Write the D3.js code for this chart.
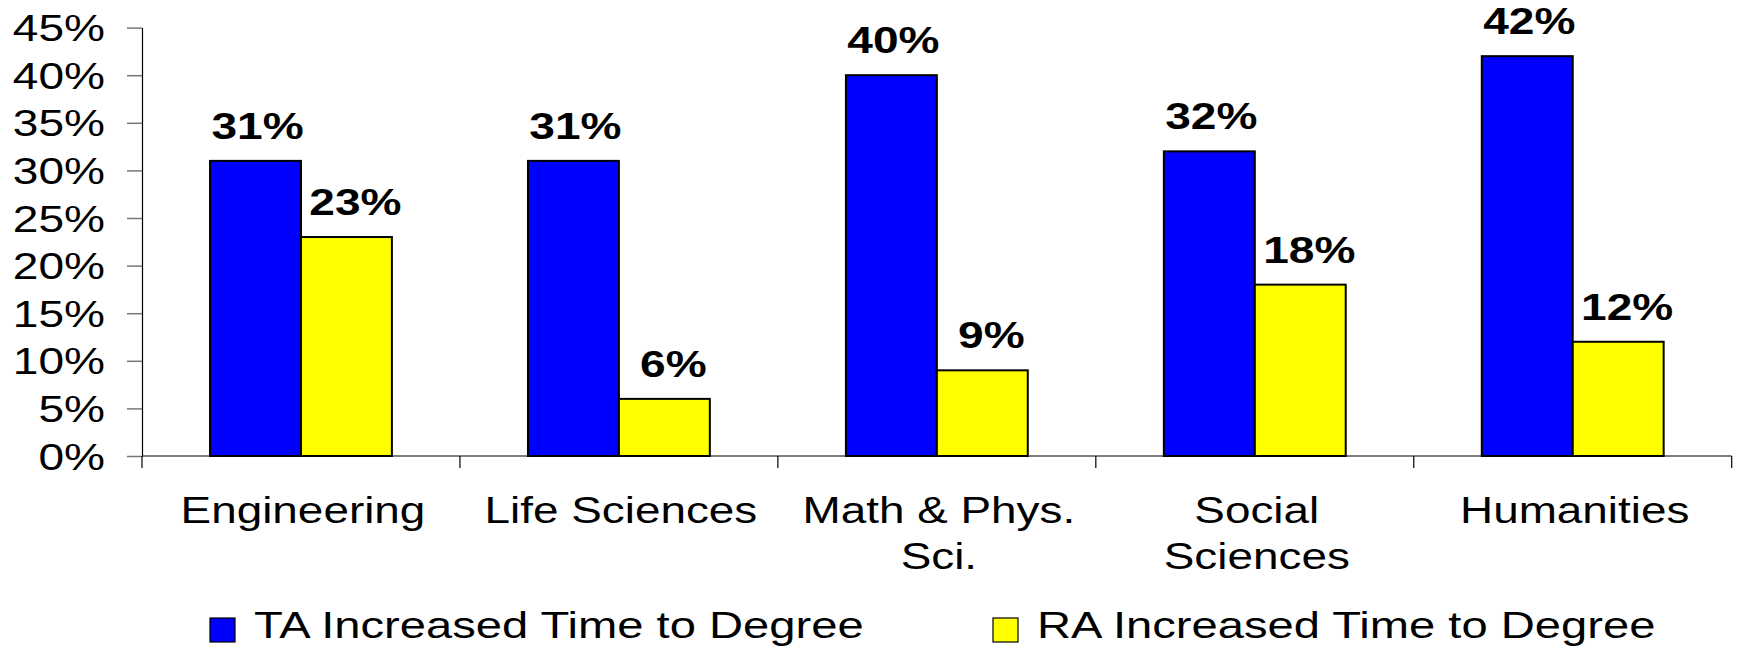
<!DOCTYPE html>
<html>
<head>
<meta charset="utf-8">
<script src="https://cdn.jsdelivr.net/npm/d3@7"></script>
<style>
  html, body { margin: 0; padding: 0; background: #fff; }
  svg { display: block; }
  text { font-family: "Liberation Sans", Arial, sans-serif; fill: #000; }
</style>
</head>
<body>
<svg id="chart" width="1739" height="647"></svg>
<script>
// ---- data ----
const categories = ["Engineering", "Life Sciences", "Math & Phys. Sci.", "Social Sciences", "Humanities"];
const categoryLines = [["Engineering"], ["Life Sciences"], ["Math & Phys.", "Sci."], ["Social", "Sciences"], ["Humanities"]];
const seriesNames = ["TA Increased Time to Degree", "RA Increased Time to Degree"];
const taValues = [31, 31, 40, 32, 42];
const raValues = [23, 6, 9, 18, 12];
const yTickValues = [0, 5, 10, 15, 20, 25, 30, 35, 40, 45];

// ---- layout / style ----
const W = 1739, H = 647;
const plot = { left: 142, right: 1731.7, top: 27.6, bottom: 456 };
const colors = ["#0000FF", "#FFFF00"];
const SX = 1.28; // horizontal text stretch of the original picture

const svg = d3.select("#chart");

const x = d3.scaleBand().domain(categories).range([plot.left, plot.right]).padding(0);
const bw = x.bandwidth();
const xSub = d3.scaleBand().domain(seriesNames).range([bw * 0.214, bw * 0.786]).padding(0);
const y = d3.scaleLinear().domain([0, 45]).range([plot.bottom, plot.top]);

const seriesData = [taValues, raValues];

// ---- y axis ----
const yAxis = d3.axisLeft(y).tickValues(yTickValues).tickSize(15).tickSizeOuter(0)
  .tickFormat(d => d + "%");
const gy = svg.append("g").attr("transform", `translate(${plot.left},0)`).call(yAxis);
gy.select(".domain").attr("stroke", "#000").attr("stroke-width", 1.2);
gy.selectAll(".tick line").attr("stroke", "#777").attr("stroke-width", 1.5);
gy.selectAll(".tick text")
  .attr("font-size", 36)
  .attr("font-family", "Liberation Sans, Arial, sans-serif")
  .attr("fill", "#000")
  .attr("x", -37 / SX)
  .attr("dy", null)
  .attr("y", 13)
  .attr("transform", `scale(${SX},1)`);

// ---- bars ----
const groups = svg.append("g").selectAll("g.cat")
  .data(categories).join("g")
  .attr("class", "cat")
  .attr("transform", d => `translate(${x(d)},0)`);

seriesNames.forEach((s, si) => {
  groups.append("rect")
    .attr("x", xSub(s))
    .attr("width", xSub.bandwidth())
    .attr("y", (d, i) => y(seriesData[si][i]))
    .attr("height", (d, i) => y(0) - y(seriesData[si][i]))
    .attr("fill", colors[si])
    .attr("stroke", "#000")
    .attr("stroke-width", 2);
});

// ---- value labels ----
seriesNames.forEach((s, si) => {
  groups.append("text")
    .attr("transform", (d, i) =>
      `translate(${xSub(s) + xSub.bandwidth() / 2 + (si === 0 ? 2 : 9)},${y(seriesData[si][i]) - 22}) scale(${SX},1)`)
    .attr("text-anchor", "middle")
    .attr("font-size", 36)
    .attr("font-weight", "bold")
    .text((d, i) => seriesData[si][i] + "%");
});

// ---- x axis ----
const gx = svg.append("g");
gx.append("line")
  .attr("x1", plot.left).attr("x2", plot.right)
  .attr("y1", y(0)).attr("y2", y(0))
  .attr("stroke", "#000").attr("stroke-width", 1.2);
const bounds = categories.map(c => x(c)).concat([x(categories[categories.length - 1]) + bw]);
gx.selectAll("line.tk").data(bounds).join("line")
  .attr("class", "tk")
  .attr("x1", d => d).attr("x2", d => d)
  .attr("y1", y(0)).attr("y2", y(0) + 12)
  .attr("stroke", "#000").attr("stroke-width", 1.2);

// category labels
const catLabels = svg.append("g").selectAll("text")
  .data(categories).join("text")
  .attr("transform", d => `translate(${x(d) + bw / 2 + 2},523) scale(1.24,1)`)
  .attr("text-anchor", "middle")
  .attr("font-size", 37);
catLabels.each(function(d, i) {
  const t = d3.select(this);
  categoryLines[i].forEach((line, li) => {
    t.append("tspan").attr("x", 0).attr("y", li * 46).text(line);
  });
});

// ---- legend ----
const legendX = [210, 993];
const leg = svg.append("g").selectAll("g")
  .data(seriesNames).join("g")
  .attr("transform", (d, i) => `translate(${legendX[i]},618)`);
leg.append("rect")
  .attr("width", 25).attr("height", 24)
  .attr("fill", (d, i) => colors[i])
  .attr("stroke", "#000").attr("stroke-width", 1.2);
leg.append("text")
  .attr("transform", `translate(${44},20) scale(1.31,1)`)
  .attr("font-size", 36)
  .text(d => d);
</script>
</body>
</html>
